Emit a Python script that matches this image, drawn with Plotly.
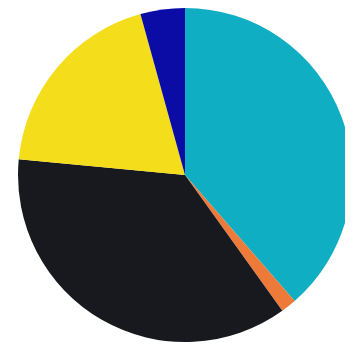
import plotly.graph_objects as go

labels = ["Teal", "Orange", "Black", "Yellow", "Blue"]
values = [38.6, 1.5, 36.4, 19.2, 4.3]
colors = ["#10aec3", "#ee7a3a", "#17191f", "#f4de1c", "#0b0ba6"]

fig = go.Figure(go.Pie(
    labels=labels,
    values=values,
    sort=False,
    direction="clockwise",
    rotation=0,
    textinfo="none",
    hoverinfo="label+percent",
    marker=dict(colors=colors, line=dict(width=0)),
))
fig.update_layout(
    width=345, height=341,
    margin=dict(l=10, r=1, t=0, b=7),
    showlegend=False,
    paper_bgcolor="white",
)
fig.write_html("out.html")
